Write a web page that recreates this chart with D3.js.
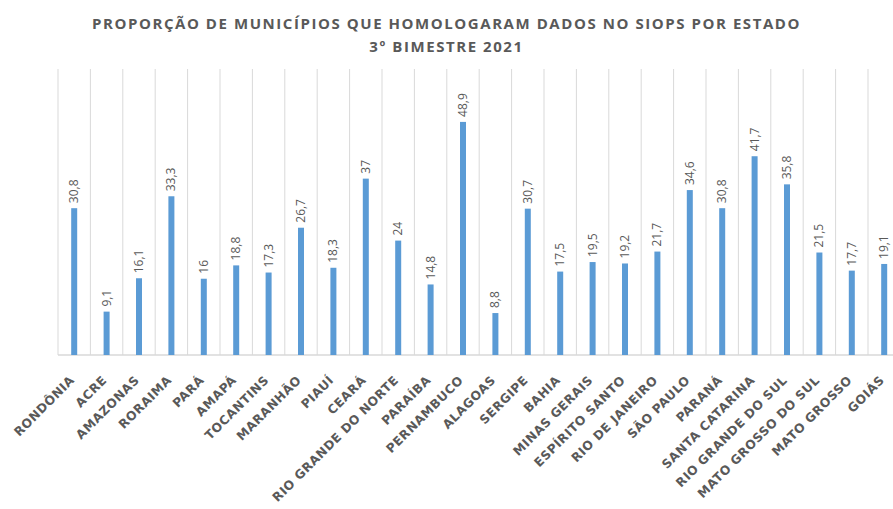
<!DOCTYPE html>
<html>
<head>
<meta charset="utf-8">
<script src="https://cdn.jsdelivr.net/npm/d3@7"></script>
<style>
  html, body { margin: 0; padding: 0; background: #fff; }
  svg { display: block; }
</style>
</head>
<body>
<svg id="chart" width="893" height="509"></svg>
<script>
// Estados (ordem do gráfico) e proporção de municípios que homologaram (%)
const estados = [
  "RONDÔNIA", "ACRE", "AMAZONAS", "RORAIMA", "PARÁ", "AMAPÁ", "TOCANTINS",
  "MARANHÃO", "PIAUÍ", "CEARÁ", "RIO GRANDE DO NORTE", "PARAÍBA", "PERNAMBUCO",
  "ALAGOAS", "SERGIPE", "BAHIA", "MINAS GERAIS", "ESPÍRITO SANTO",
  "RIO DE JANEIRO", "SÃO PAULO", "PARANÁ", "SANTA CATARINA",
  "RIO GRANDE DO SUL", "MATO GROSSO DO SUL", "MATO GROSSO", "GOIÁS"
];
const proporcao = [
  30.8, 9.1, 16.1, 33.3, 16, 18.8, 17.3,
  26.7, 18.3, 37, 24, 14.8, 48.9,
  8.8, 30.7, 17.5, 19.5, 19.2,
  21.7, 34.6, 30.8, 41.7,
  35.8, 21.5, 17.7, 19.1
];
const titulo = [
  "PROPORÇÃO DE MUNICÍPIOS QUE HOMOLOGARAM DADOS NO SIOPS POR ESTADO",
  "3º BIMESTRE 2021"
];

const svg = d3.select("#chart");
const W = 893, H = 509;
const plotLeft = 58, plotTop = 69, plotBottom = 355;
const step = 32.4;
const plotRight = plotLeft + step * estados.length;

const x = d3.scaleBand().domain(estados).range([plotLeft, plotRight]).paddingInner(0).paddingOuter(0);
const y = d3.scaleLinear().domain([0, 60]).range([plotBottom, plotTop]);

const grey = "#595959";
const gridColor = "#d9d9d9";

// Título (duas linhas, mesmo espaçamento entre letras)
const tituloG = svg.append("g")
  .attr("fill", grey)
  .attr("font-family", "'Open Sans', 'DejaVu Sans', sans-serif")
  .attr("font-weight", "bold")
  .attr("font-size", 15);
const linhas = tituloG.selectAll("text").data(titulo).join("text")
  .attr("x", W / 2)
  .attr("y", (d, i) => 28.5 + i * 23.5)
  .attr("text-anchor", "middle")
  .text(d => d);
// ajusta o espaçamento para que a primeira linha ocupe ~709px
const larg0 = linhas.node().getComputedTextLength();
const ls = Math.max(0, (709 - larg0) / titulo[0].length);
linhas.attr("letter-spacing", ls);

// Linhas de grade verticais entre categorias
const bounds = estados.map(d => x(d)).concat([plotRight]);
svg.append("g").selectAll("line").data(bounds).join("line")
  .attr("x1", d => d).attr("x2", d => d)
  .attr("y1", plotTop).attr("y2", plotBottom)
  .attr("stroke", gridColor).attr("stroke-width", 1);

// Linha de base
svg.append("line")
  .attr("x1", plotLeft).attr("x2", plotRight)
  .attr("y1", plotBottom).attr("y2", plotBottom)
  .attr("stroke", gridColor).attr("stroke-width", 1.5);

// Barras
const barW = 6;
svg.append("g").selectAll("rect").data(estados).join("rect")
  .attr("x", d => x(d) + x.bandwidth() / 2 - barW / 2)
  .attr("width", barW)
  .attr("y", (d, i) => y(proporcao[i]))
  .attr("height", (d, i) => plotBottom - y(proporcao[i]))
  .attr("fill", "#5b9bd5");

// Rótulos de valor (verticais)
svg.append("g").selectAll("text").data(estados).join("text")
  .attr("transform", (d, i) => `translate(${x(d) + x.bandwidth() / 2 + 4},${y(proporcao[i]) - 5}) rotate(-90)`)
  .attr("fill", grey)
  .attr("font-family", "'Open Sans', 'DejaVu Sans', sans-serif")
  .attr("font-size", 12)
  .text((d, i) => String(proporcao[i]).replace(".", ","));

// Rótulos das categorias (inclinados)
svg.append("g").selectAll("text").data(estados).join("text")
  .attr("transform", d => `translate(${x(d) + x.bandwidth() / 2 + 1},${plotBottom + 26}) rotate(-45)`)
  .attr("text-anchor", "end")
  .attr("fill", grey)
  .attr("font-family", "'DejaVu Sans', 'Open Sans', sans-serif")
  .attr("font-weight", "bold")
  .attr("font-size", 12.3)
  .attr("letter-spacing", 0.5)
  .text(d => d);
</script>
</body>
</html>
